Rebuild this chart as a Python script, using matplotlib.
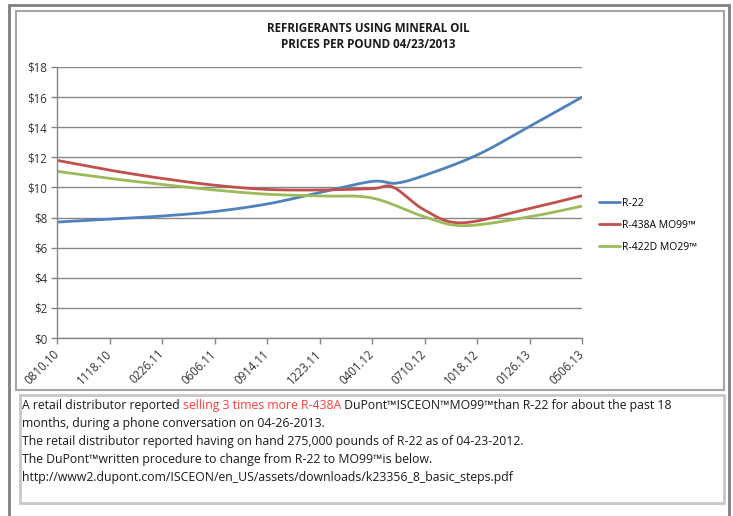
import numpy as np
import matplotlib
matplotlib.use('Agg')
import matplotlib.pyplot as plt
from matplotlib.patches import Rectangle
from matplotlib import font_manager as fm
from matplotlib.transforms import ScaledTranslation

# ---------------- data ----------------
categories = ['0810.10', '1118.10', '0226.11', '0606.11', '0914.11', '1223.11',
              '0401.12', '0710.12', '1018.12', '0126.13', '0506.13']
yticks = [0, 2, 4, 6, 8, 10, 12, 14, 16, 18]
ytick_labels = [r'\$%d' % v for v in yticks]

# x positions expressed in category-tick units (100-day steps)
r22_x = [0, 1, 2, 3, 4, 5, 6, 6.45, 7, 8, 9, 10]
r22_y = [7.7, 7.9, 8.1, 8.4, 8.9, 9.65, 10.4, 10.28, 10.8, 12.15, 14.05, 16.0]

r438a_x = [0, 1, 2, 3, 4, 5, 6, 6.4, 7, 7.7, 9, 10]
r438a_y = [11.8, 11.15, 10.6, 10.15, 9.87, 9.83, 9.92, 10.02, 8.5, 7.65, 8.6, 9.45]

r422d_x = [0, 1, 2, 3, 4, 5, 6, 7, 7.75, 9, 10]
r422d_y = [11.07, 10.6, 10.2, 9.83, 9.55, 9.43, 9.3, 8.05, 7.46, 8.05, 8.76]

series_names = ['R-22', 'R-438A MO99\u2122', 'R-422D MO29\u2122']
series_colors = ['#4F81BD', '#C0504D', '#9BBB59']

title_lines = ['REFRIGERANTS USING MINERAL OIL', 'PRICES PER POUND 04/23/2013']
note_lines = [
    [('A retail distributor reported ', '#1a1a1a'),
     ('selling 3 times more R-438A', '#FF3B3B'),
     (' DuPont\u2122ISCEON\u2122MO99\u2122than R-22 for about the past 18', '#1a1a1a')],
    [('months, during a phone conversation on 04-26-2013.', '#1a1a1a')],
    [('The retail distributor reported having on hand 275,000 pounds of R-22 as of 04-23-2012.', '#1a1a1a')],
    [('The DuPont\u2122written procedure to change from R-22 to MO99\u2122is below.', '#1a1a1a')],
    [('http://www2.dupont.com/ISCEON/en_US/assets/downloads/k23356_8_basic_steps.pdf', '#1a1a1a')],
]

# ---------------- fonts ----------------
avail = {f.name for f in fm.fontManager.ttflist}
fam = [f for f in ['Liberation Sans Narrow', 'Open Sans', 'DejaVu Sans'] if f in avail]
fam.append('DejaVu Sans')
plt.rcParams['font.family'] = fam

W, H = 733, 516
fig = plt.figure(figsize=(W / 100, H / 100), dpi=100)


def fx(px):
    return px / W


def fy(py):
    return 1 - py / H


# frames
fig.patches.append(Rectangle((fx(9), fy(530)), fx(720), (530 - 5) / H, transform=fig.transFigure,
                             fill=False, edgecolor='#7f7f7f', linewidth=2.0))
fig.patches.append(Rectangle((fx(15.5), fy(389.5)), fx(708.5), (389.5 - 11) / H, transform=fig.transFigure,
                             fill=False, edgecolor='#a6a6a6', linewidth=1.5))
fig.patches.append(Rectangle((fx(19.5), fy(503)), fx(704), (503 - 395) / H, transform=fig.transFigure,
                             fill=False, edgecolor='#c8c8c8', linewidth=2.0))

# ---------------- axes ----------------
x_left, x_right, y_top, y_bot = 57, 582, 67, 338
ax = fig.add_axes([fx(x_left), fy(y_bot), fx(x_right - x_left), (y_bot - y_top) / H])

sx, sy = (x_right - x_left) / 10.0, (y_bot - y_top) / 18.0


def excel_smooth(xs, ys, n=40):
    P = np.column_stack([np.asarray(xs, float) * sx, np.asarray(ys, float) * sy])
    out = [P[0]]
    for i in range(len(P) - 1):
        p0 = P[i - 1] if i > 0 else P[i]
        p1, p2 = P[i], P[i + 1]
        p3 = P[i + 2] if i + 2 < len(P) else P[i + 1]
        c1 = p1 + (p2 - p0) / 6.0
        c2 = p2 - (p3 - p1) / 6.0
        t = np.linspace(0, 1, n)[1:, None]
        B = (1 - t) ** 3 * p1 + 3 * (1 - t) ** 2 * t * c1 + 3 * (1 - t) * t ** 2 * c2 + t ** 3 * p2
        out.extend(B)
    out = np.array(out)
    return out[:, 0] / sx, out[:, 1] / sy


for xs, ys, name, col in zip([r22_x, r438a_x, r422d_x], [r22_y, r438a_y, r422d_y],
                             series_names, series_colors):
    X, Y = excel_smooth(xs, ys)
    ax.plot(X, Y, color=col, linewidth=2.0, label=name, solid_capstyle='round')

ax.set_xlim(0, 10)
ax.set_ylim(0, 18)
ax.set_yticks(yticks)
ax.set_yticklabels(ytick_labels, fontsize=8.3, color='#333333')
ax.set_xticks(range(len(categories)))
ax.set_xticklabels(categories, rotation=45, ha='right', va='center', rotation_mode='anchor',
                   fontsize=8.3, color='#333333')
shift = ScaledTranslation(4 / 100, 0, fig.dpi_scale_trans)
for lab in ax.get_xticklabels():
    lab.set_transform(lab.get_transform() + shift)
ax.tick_params(axis='x', length=4, width=1, color='#868686', direction='out', pad=6)
ax.tick_params(axis='y', length=4, width=1, color='#868686', direction='out', pad=3)
ax.grid(axis='y', color='#878787', linewidth=1.0)
ax.set_axisbelow(True)
for s in ['top', 'right']:
    ax.spines[s].set_visible(False)
for s in ['left', 'bottom']:
    ax.spines[s].set_color('#868686')
    ax.spines[s].set_linewidth(1.0)

fig.legend(loc='upper left', bbox_to_anchor=(fx(599), fy(198)), frameon=False, fontsize=7.5,
           handlelength=2.0, handletextpad=0.2, labelspacing=1.05, borderpad=0, borderaxespad=0)

# ---------------- texts ----------------
renderer = fig.canvas.get_renderer()


def fit_size(text, target_w, weight='normal', base=10.0):
    t = fig.text(0, 0, text, fontsize=base, fontweight=weight)
    w = t.get_window_extent(renderer).width
    t.remove()
    return base * target_w / w


tsize = fit_size(title_lines[0], 204, weight='bold')
fig.text(fx(368), fy(28), title_lines[0], ha='center', va='center', fontsize=tsize,
         fontweight='bold', color='#1a1a1a')
fig.text(fx(368), fy(45), title_lines[1], ha='center', va='center', fontsize=tsize,
         fontweight='bold', color='#1a1a1a')

line1 = ''.join(p for p, _ in note_lines[0])
nsize = fit_size(line1, 651)
y_centers = [406, 424, 442, 459, 477]
for parts, yc in zip(note_lines, y_centers):
    xpos = 22
    for txt, col in parts:
        t = fig.text(fx(xpos), fy(yc), txt, ha='left', va='center', fontsize=nsize, color=col)
        xpos += t.get_window_extent(renderer).width

fig.savefig('out.png', dpi=100)
